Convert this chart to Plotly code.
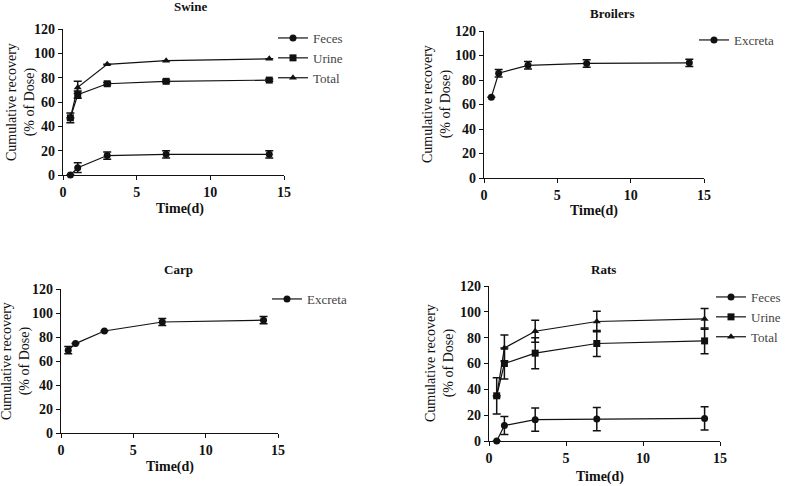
import plotly.graph_objects as go

time = [0.5, 1, 3, 7, 14]

swine_feces = [0, 6, 16, 17, 17]
swine_feces_err = [0, 4, 3, 3, 3]
swine_urine = [47, 66, 75, 77, 78]
swine_urine_err = [4, 3, 1, 1, 1]
swine_total = [47, 72, 91, 94, 95.5]
swine_total_err = [0, 5, 0, 0, 0]

broilers_excreta = [66, 85.5, 92, 93.5, 94]
broilers_err = [0, 3, 3, 3, 3]

carp_excreta = [69, 74.5, 85, 92.5, 94]
carp_err = [3, 0, 0, 3, 3]

rats_feces = [0, 12, 16.5, 17, 17.5]
rats_feces_err = [0, 7, 9, 9, 9]
rats_urine = [35, 60, 68, 75.5, 77.5]
rats_urine_err = [14, 12, 12, 10, 10]
rats_total = [35, 72, 85, 92.5, 94.5]
rats_total_err = [0, 10, 8.5, 8, 8]

panel_titles = ["Swine", "Broilers", "Carp", "Rats"]
x_ticks = [0, 5, 10, 15]
y_ticks = [0, 20, 40, 60, 80, 100, 120]

W, H = 787, 486
def px(x): return x / W
def py(y): return 1 - y / H

fig = go.Figure()

SERIF = "Liberation Serif"
BLACK = "#111111"

# panel domains in pixels: (left, right, top, bottom)
panels = [
    (63, 284, 29, 175),
    (484, 704, 31, 178),
    (61, 278, 289, 433),
    (489, 720, 286, 441),
]

def add(panel, name, y, err, symbol, legend):
    idx = panel + 1
    xa = "x" if idx == 1 else f"x{idx}"
    ya = "y" if idx == 1 else f"y{idx}"
    fig.add_trace(go.Scatter(
        x=time, y=y, name=name, mode="lines+markers",
        xaxis=xa, yaxis=ya,
        line=dict(color=BLACK, width=1.2),
        marker=dict(symbol=symbol, size=7, color=BLACK),
        error_y=dict(type="data", array=err, visible=True, color=BLACK, thickness=1.5, width=4),
        legend=legend, cliponaxis=False,
    ))

add(0, "Feces", swine_feces, swine_feces_err, "circle", "legend")
add(0, "Urine", swine_urine, swine_urine_err, "square", "legend")
add(0, "Total", swine_total, swine_total_err, "triangle-up", "legend")
add(1, "Excreta", broilers_excreta, broilers_err, "circle", "legend2")
add(2, "Excreta", carp_excreta, carp_err, "circle", "legend3")
add(3, "Feces", rats_feces, rats_feces_err, "circle", "legend4")
add(3, "Urine", rats_urine, rats_urine_err, "square", "legend4")
add(3, "Total", rats_total, rats_total_err, "triangle-up", "legend4")

axis_common = dict(
    showgrid=False, zeroline=False, showline=True, linecolor=BLACK, linewidth=1.2,
    ticks="outside", ticklen=4, tickcolor=BLACK, tickwidth=1.2,
    tickfont=dict(family=SERIF, size=14, color=BLACK, weight="bold"),
)
layout = {}
for i, (l, r, t, b) in enumerate(panels):
    idx = i + 1
    xk = "xaxis" if idx == 1 else f"xaxis{idx}"
    yk = "yaxis" if idx == 1 else f"yaxis{idx}"
    xa_ref = "y" if idx == 1 else f"y{idx}"
    ya_ref = "x" if idx == 1 else f"x{idx}"
    layout[xk] = dict(axis_common, domain=[px(l), px(r)], range=[0, 15], tickvals=x_ticks,
                      anchor=xa_ref)
    layout[yk] = dict(axis_common, domain=[py(b), py(t)], range=[0, 120], tickvals=y_ticks,
                      anchor=ya_ref)
fig.update_layout(**layout)

leg_common = dict(font=dict(family=SERIF, size=13, color="#444444"), bgcolor="rgba(0,0,0,0)",
                  xanchor="left", yanchor="top", tracegroupgap=0, itemwidth=30)
fig.update_layout(
    legend=dict(leg_common, x=px(273), y=py(23)),
    legend2=dict(leg_common, x=px(694), y=py(25)),
    legend3=dict(leg_common, x=px(267), y=py(284)),
    legend4=dict(leg_common, x=px(711), y=py(282)),
)

annotations = []
title_pos = [(190, 7), (612, 13), (178, 269), (603, 269)]
for name, (x, y) in zip(panel_titles, title_pos):
    annotations.append(dict(text=f"<b>{name}</b>", x=px(x), y=py(y), xref="paper", yref="paper",
                            xanchor="center", yanchor="middle",
                            showarrow=False, font=dict(family=SERIF, size=13, color=BLACK)))
xt_pos = [(180, 209), (594, 211), (170, 467), (600, 477)]
for (x, y) in xt_pos:
    annotations.append(dict(text="<b>Time(d)</b>", x=px(x), y=py(y), xref="paper", yref="paper",
                            xanchor="center", yanchor="middle",
                            showarrow=False, font=dict(family=SERIF, size=14, color=BLACK)))
yt_pos = [(21, 102), (437, 104), (16, 361), (440, 363)]
for (x, y) in yt_pos:
    annotations.append(dict(text="Cumulative recovery<br>(% of Dose)", x=px(x), y=py(y),
                            xref="paper", yref="paper", showarrow=False, textangle=-90,
                            xanchor="center", yanchor="middle",
                            font=dict(family=SERIF, size=14, color=BLACK)))
fig.update_layout(annotations=annotations)

fig.update_layout(width=W, height=H, margin=dict(l=0, r=0, t=0, b=0, autoexpand=False),
                  paper_bgcolor="white", plot_bgcolor="white")

fig.write_html("out.html", config={"displayModeBar": False},
               post_script="document.body.style.margin='0';")
